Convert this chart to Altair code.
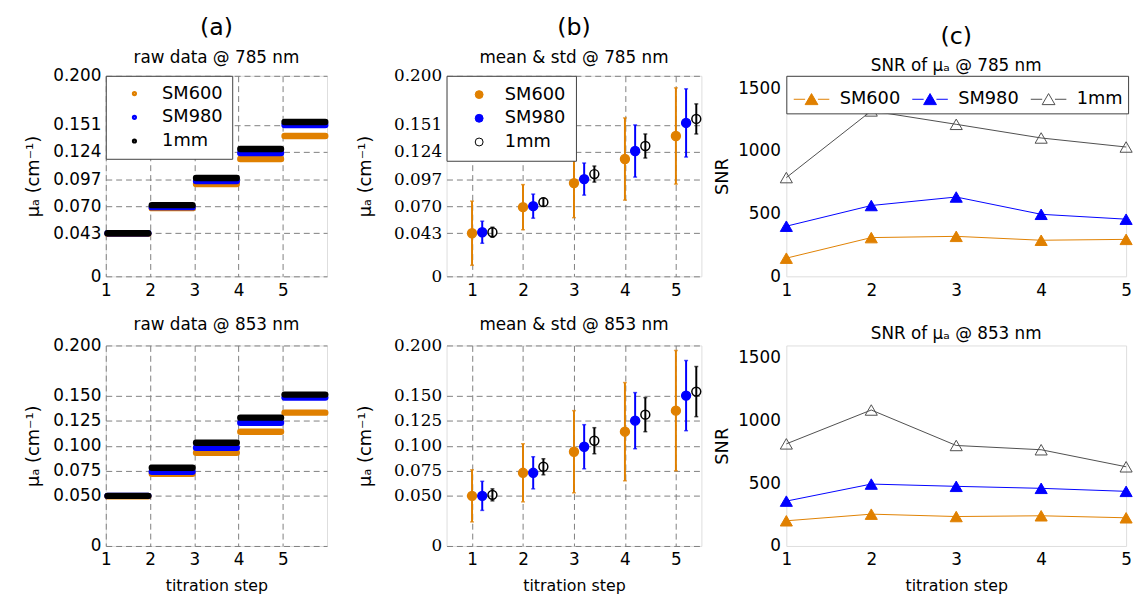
import altair as alt
import pandas as pd

FONT = "DejaVu Sans"
SERIF = "DejaVu Serif"
ORANGE = "#E08000"
BLUE = "#0000FF"
BLACK = "#000000"
DARK = "#4D4D4D"
GRID = "#7F7F7F"
FRAME = "#404040"

series_names = ["SM600", "SM980", "1mm"]
steps = [1, 2, 3, 4, 5]

# (a) raw data levels per titration step
raw785_sm600 = [0.0425, 0.068, 0.092, 0.117, 0.140]
raw785_sm980 = [0.043, 0.069, 0.095, 0.123, 0.151]
raw785_1mm = [0.043, 0.071, 0.098, 0.127, 0.154]
raw853_sm600 = [0.0495, 0.072, 0.093, 0.114, 0.133]
raw853_sm980 = [0.050, 0.074, 0.098, 0.123, 0.148]
raw853_1mm = [0.050, 0.078, 0.103, 0.128, 0.151]

# (b) mean & std
mean785_sm600 = [0.043, 0.069, 0.093, 0.117, 0.140]
std785_sm600 = [0.032, 0.0225, 0.0345, 0.041, 0.048]
mean785_sm980 = [0.044, 0.070, 0.097, 0.125, 0.153]
std785_sm980 = [0.011, 0.012, 0.016, 0.026, 0.034]
mean785_1mm = [0.044, 0.074, 0.102, 0.130, 0.157]
std785_1mm = [0.005, 0.004, 0.008, 0.012, 0.015]

mean853_sm600 = [0.050, 0.073, 0.094, 0.114, 0.135]
std853_sm600 = [0.026, 0.029, 0.041, 0.049, 0.060]
mean853_sm980 = [0.050, 0.073, 0.099, 0.125, 0.150]
std853_sm980 = [0.0145, 0.016, 0.022, 0.028, 0.035]
mean853_1mm = [0.051, 0.079, 0.105, 0.131, 0.154]
std853_1mm = [0.006, 0.008, 0.013, 0.017, 0.025]

# (c) SNR
snr785_sm600 = [145, 309, 319, 288, 295]
snr785_sm980 = [400, 565, 633, 495, 456]
snr785_1mm = [788, 1320, 1213, 1104, 1032]
snr853_sm600 = [201, 254, 235, 241, 225]
snr853_sm980 = [358, 494, 476, 460, 436]
snr853_1mm = [815, 1085, 802, 768, 632]

yticks785 = [0, 0.043, 0.070, 0.097, 0.124, 0.151, 0.200]
yticks853 = [0, 0.050, 0.075, 0.100, 0.125, 0.150, 0.200]
snr_ticks = [0, 500, 1000, 1500]

# styling (not data)
B_OFFSET = {"SM600": 0.0, "SM980": 0.2, "1mm": 0.4}
W_A, W_B, W_C, H = 224, 258, 344, 203
MU_TITLE = "\u03bc\u2090 (cm\u207b\u00b9)"
LABEL_EXPR = "datum.value == 0 ? '0' : format(datum.value, '.3f')"


def x_axis(show_title):
    return alt.Axis(values=steps, format="d", grid=True, gridDash=[6, 4], gridColor=GRID,
                    gridWidth=1, ticks=False, domain=False, labelFont=FONT, labelFontSize=17,
                    labelColor="black", labelPadding=6, labelFlush=False, labelOverlap=False,
                    title="titration step" if show_title else None, titleFont=FONT,
                    titleFontSize=16, titleFontWeight="normal", titleColor="black", titlePadding=10)


def mu_axis(ticks, font, tpad):
    return alt.Axis(values=ticks, labelExpr=LABEL_EXPR, grid=True, gridDash=[6, 4],
                    gridColor=GRID, gridWidth=1, ticks=False, domain=False, labelFont=font,
                    labelFontSize=17, labelColor="black", labelPadding=5, labelFlush=False,
                    labelOverlap=False, title=MU_TITLE, titleFont=FONT, titleFontSize=18,
                    titleFontWeight="normal", titleColor="black", titlePadding=tpad)


def top_title(letter, sub):
    return alt.TitleParams(text=letter, subtitle=sub, font=FONT, fontSize=24, fontWeight="normal",
                           color="black", subtitleFont=FONT, subtitleFontSize=17,
                           subtitleColor="black", subtitlePadding=10, anchor="middle", offset=1)


def bottom_title(text):
    return alt.TitleParams(text=text, font=FONT, fontSize=17, fontWeight="normal",
                           color="black", anchor="middle", offset=3)


def panel_a(levels, yticks, title, legend_on, xtitle):
    rows = []
    for s, vals in zip(series_names, levels):
        for st, v in zip(steps, vals):
            rows.append({"series": s, "step": st + 0.04, "step_end": st + 0.96, "value": v})
    df = pd.DataFrame(rows)
    if legend_on:
        leg = alt.Legend(title=None, orient="top-left", offset=0, padding=9, fillColor="white",
                         strokeColor=FRAME, symbolType="circle", symbolSize=5,
                         symbolStrokeWidth=3, symbolOffset=11, labelOffset=19, labelFont=FONT,
                         labelFontSize=18, labelColor="black", rowPadding=6)
    else:
        leg = None
    return alt.Chart(df).mark_rule(strokeWidth=6.5, strokeCap="round").encode(
        x=alt.X("step:Q", scale=alt.Scale(domain=[1, 6], nice=False, zero=False), axis=x_axis(xtitle)),
        x2="step_end:Q",
        y=alt.Y("value:Q", scale=alt.Scale(domain=[0, 0.2], nice=False), axis=mu_axis(yticks, FONT, 10)),
        color=alt.Color("series:N", scale=alt.Scale(domain=series_names, range=[ORANGE, BLUE, BLACK]),
                        legend=leg),
    ).properties(width=W_A, height=H, title=title)


def panel_b(means, stds, yticks, title, legend_on, xtitle):
    rows = []
    for s, ms, sd in zip(series_names, means, stds):
        for st, m, d in zip(steps, ms, sd):
            rows.append({"series": s, "xpos": st + B_OFFSET[s], "mean": m, "lo": m - d, "hi": m + d})
    df = pd.DataFrame(rows)
    xscale = alt.Scale(domain=[0.5, 5.5], nice=False, zero=False)
    yscale = alt.Scale(domain=[0, 0.2], nice=False)
    # error-bar colours (domain listed in another order so its legend stays separate)
    cscale = alt.Scale(domain=["1mm", "SM600", "SM980"], range=[BLACK, ORANGE, BLUE])
    xax = x_axis(xtitle)
    yax = mu_axis(yticks, SERIF, 19)
    base = alt.Chart(df)
    bars = base.mark_rule(strokeWidth=2).encode(
        x=alt.X("xpos:Q", scale=xscale, axis=xax),
        y=alt.Y("lo:Q", scale=yscale, axis=yax),
        y2="hi:Q",
        color=alt.Color("series:N", scale=cscale, legend=None),
    )
    cap_lo = base.mark_tick(orient="horizontal", size=4, thickness=1.5).encode(
        x=alt.X("xpos:Q", scale=xscale, axis=xax),
        y=alt.Y("lo:Q", scale=yscale, axis=yax),
        color=alt.Color("series:N", scale=cscale, legend=None))
    cap_hi = base.mark_tick(orient="horizontal", size=4, thickness=1.5).encode(
        x=alt.X("xpos:Q", scale=xscale, axis=xax),
        y=alt.Y("hi:Q", scale=yscale, axis=yax),
        color=alt.Color("series:N", scale=cscale, legend=None))
    if legend_on:
        leg = alt.Legend(title=None, orient="top-left", offset=0, padding=10, fillColor="white",
                         strokeColor=FRAME, symbolType="circle", symbolSize=64,
                         symbolStrokeWidth=1, symbolOffset=14, labelOffset=17, labelFont=FONT,
                         labelFontSize=18, labelColor="black", rowPadding=6)
    else:
        leg = None
    pts = base.mark_point(shape="circle", size=81, strokeWidth=1.5, opacity=1).encode(
        x=alt.X("xpos:Q", scale=xscale, axis=xax),
        y=alt.Y("mean:Q", scale=yscale, axis=yax),
        fill=alt.Fill("series:N", scale=alt.Scale(domain=series_names,
                                                    range=[ORANGE, BLUE, "transparent"]), legend=leg),
        stroke=alt.Stroke("series:N", scale=alt.Scale(domain=series_names,
                                                        range=[ORANGE, BLUE, BLACK]), legend=leg),
    )
    return alt.layer(bars, cap_lo, cap_hi, pts).properties(width=W_B, height=H, title=title)


def panel_c(snrs, title, legend_on, xtitle):
    rows = []
    for s, vals in zip(series_names, snrs):
        for st, v in zip(steps, vals):
            rows.append({"series": s, "step": st, "snr": v})
    df = pd.DataFrame(rows)
    xenc = alt.X("step:Q", scale=alt.Scale(domain=[1, 5], nice=False, zero=False),
                 axis=alt.Axis(values=steps, format="d", grid=False, ticks=False, domain=False,
                               labelFont=FONT, labelFontSize=17, labelColor="black", labelPadding=6,
                               labelFlush=False, labelOverlap=False,
                               title="titration step" if xtitle else None, titleFont=FONT,
                               titleFontSize=16, titleFontWeight="normal", titleColor="black",
                               titlePadding=10))
    yenc = alt.Y("snr:Q", scale=alt.Scale(domain=[0, 1600], nice=False),
                 axis=alt.Axis(values=snr_ticks, format="d", grid=False, ticks=False, domain=False,
                               labelFont=FONT, labelFontSize=17, labelColor="black", labelPadding=6,
                               labelFlush=False, labelOverlap=False, title="SNR", titleFont=FONT,
                               titleFontSize=18, titleFontWeight="normal", titleColor="black",
                               titlePadding=6))
    sscale = alt.Scale(domain=series_names, range=[ORANGE, BLUE, DARK])
    fscale = alt.Scale(domain=series_names, range=[ORANGE, BLUE, "transparent"])
    if legend_on:
        leg = alt.Legend(title=None, orient="top-left", offset=0, padding=5, fillColor="white",
                         strokeColor=FRAME, direction="horizontal",
                         symbolType="M-1,0L-0.36,0M0.36,0L1,0M-0.36,0.3L0,-0.32L0.36,0.3Z",
                         symbolSize=1296, symbolStrokeWidth=1, symbolOffset=2, labelOffset=10,
                         columnPadding=9, labelFont=FONT, labelFontSize=18, labelColor="black")
    else:
        leg = None
    base = alt.Chart(df)
    line = base.mark_line(strokeWidth=1).encode(
        x=xenc, y=yenc, stroke=alt.Stroke("series:N", scale=sscale, legend=leg))
    pts = base.mark_point(shape="triangle-up", size=150, strokeWidth=1, opacity=1).encode(
        x=xenc, y=yenc,
        stroke=alt.Stroke("series:N", scale=sscale, legend=leg),
        fill=alt.Fill("series:N", scale=fscale, legend=leg))
    return alt.layer(line, pts).properties(width=W_C, height=H, title=title)


def indep(ch):
    return ch.resolve_scale(color="independent", fill="independent", stroke="independent").resolve_legend(
        color="independent", fill="independent", stroke="independent")


a1 = panel_a([raw785_sm600, raw785_sm980, raw785_1mm], yticks785,
             top_title("(a)", "raw data @ 785 nm"), True, False)
a2 = panel_a([raw853_sm600, raw853_sm980, raw853_1mm], yticks853,
             bottom_title("raw data @ 853 nm"), False, True)
b1 = panel_b([mean785_sm600, mean785_sm980, mean785_1mm], [std785_sm600, std785_sm980, std785_1mm],
             yticks785, top_title("(b)", "mean & std @ 785 nm"), True, False)
b2 = panel_b([mean853_sm600, mean853_sm980, mean853_1mm], [std853_sm600, std853_sm980, std853_1mm],
             yticks853, bottom_title("mean & std @ 853 nm"), False, True)
c1 = panel_c([snr785_sm600, snr785_sm980, snr785_1mm],
             top_title("(c)", "SNR of \u03bc\u2090 @ 785 nm"), True, False)
c2 = panel_c([snr853_sm600, snr853_sm980, snr853_1mm],
             bottom_title("SNR of \u03bc\u2090 @ 853 nm"), False, True)

S1, S2 = 27, 9
top = indep(alt.hconcat(a1, indep(alt.hconcat(b1, c1, spacing=S2)), spacing=S1))
bottom = indep(alt.hconcat(a2, indep(alt.hconcat(b2, c2, spacing=S2)), spacing=S1))

chart = indep(alt.vconcat(top, bottom, spacing=16)).properties(
    padding={"left": 16, "top": 4, "right": 0, "bottom": 0}
).configure_view(stroke=FRAME, strokeWidth=1).configure(background="white")

chart.save("out.html", embed_options={"renderer": "svg", "actions": False})
